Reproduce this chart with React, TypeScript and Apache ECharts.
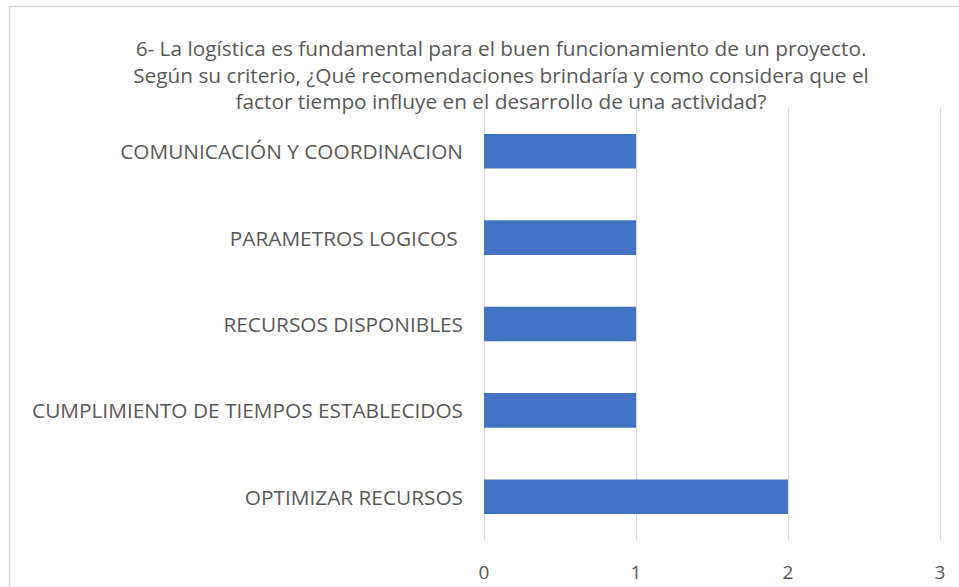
import React, { useEffect, useRef } from "react";
import * as echarts from "echarts";

const categories = [
  "COMUNICACIÓN Y COORDINACION",
  "PARAMETROS LOGICOS ",
  "RECURSOS DISPONIBLES",
  "CUMPLIMIENTO DE TIEMPOS ESTABLECIDOS",
  "OPTIMIZAR RECURSOS",
];
const values = [1, 1, 1, 1, 2];
const titleLines = [
  "6- La logística es fundamental para el buen funcionamiento de un proyecto.",
  "Según su criterio, ¿Qué recomendaciones brindaría y como considera que el",
  "factor tiempo influye en el desarrollo de una actividad?",
];

const FONT = "'Open Sans', 'Noto Sans', sans-serif";
const TEXT = "#595959";

export default function App() {
  const ref = useRef<HTMLDivElement>(null);
  useEffect(() => {
    if (!ref.current) return;
    const chart = echarts.init(ref.current, undefined, { renderer: "svg" });
    chart.setOption({
      animation: false,
      backgroundColor: "#ffffff",
      textStyle: { fontFamily: FONT },
      graphic: [
        {
          type: "rect",
          shape: { x: 9.5, y: 6.5, width: 1000, height: 700 },
          style: { fill: "none", stroke: "#D9D9D9", lineWidth: 1.5 },
          z: 0,
        },
        {
          type: "text",
          x: 501,
          y: 35,
          style: {
            text: titleLines.join("\n"),
            fill: TEXT,
            fontSize: 20.8,
            fontFamily: FONT,
            lineHeight: 26.5,
            align: "center",
            verticalAlign: "top",
          },
          z: 10,
        },
      ],
      grid: { left: 484, right: 19, top: 108, bottom: 47, containLabel: false },
      xAxis: {
        type: "value",
        min: 0,
        max: 3,
        interval: 1,
        axisLine: { show: false },
        axisTick: { show: false },
        splitLine: { show: true, lineStyle: { color: "#D9D9D9", width: 1 } },
        axisLabel: { color: TEXT, fontSize: 19, fontFamily: FONT, margin: 22 },
      },
      yAxis: {
        type: "category",
        inverse: true,
        data: categories,
        axisLine: { show: false },
        axisTick: { show: false },
        splitLine: { show: false },
        axisLabel: { color: TEXT, fontSize: 20.8, fontFamily: FONT, margin: 21 },
      },
      series: [
        {
          type: "bar",
          data: values,
          barCategoryGap: "60%",
          itemStyle: { color: "#4472C4" },
        },
      ],
    });
    return () => chart.dispose();
  }, []);
  return (
    <div
      ref={ref}
      style={{ position: "fixed", left: 0, top: 0, width: 959, height: 587 }}
    />
  );
}
